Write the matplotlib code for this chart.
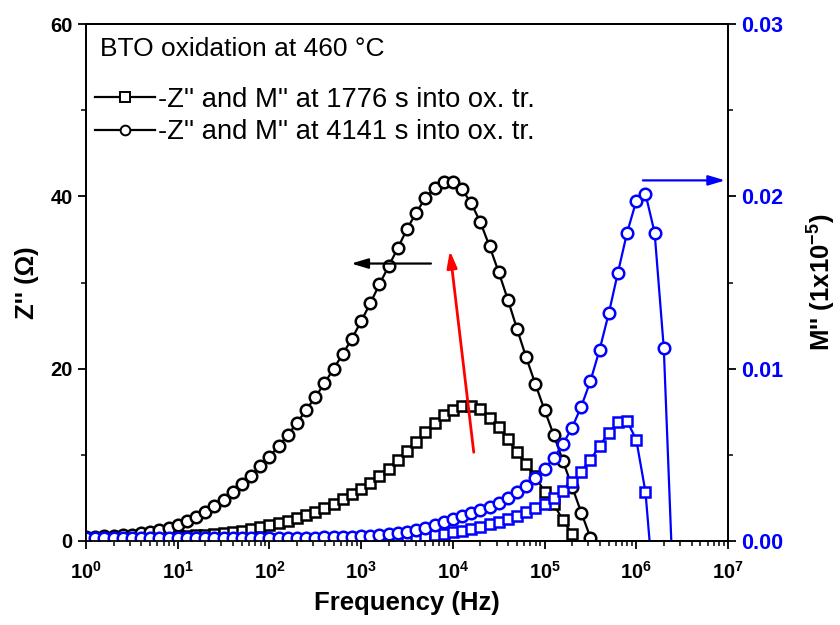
import numpy as np
import matplotlib
matplotlib.use("Agg")
import matplotlib.pyplot as plt
from matplotlib.lines import Line2D

plt.rcParams['font.family'] = ['Liberation Sans', 'DejaVu Sans']
plt.rcParams['mathtext.fontset'] = 'custom'
plt.rcParams['mathtext.rm'] = 'Liberation Sans'
plt.rcParams['mathtext.bf'] = 'Liberation Sans:bold'

# measurement grid: 10 points per decade, 1 Hz .. 2.5 MHz
log_f = [0.0, 0.1, 0.2, 0.3, 0.4, 0.5, 0.6, 0.7, 0.8, 0.9,
         1.0, 1.1, 1.2, 1.3, 1.4, 1.5, 1.6, 1.7, 1.8, 1.9,
         2.0, 2.1, 2.2, 2.3, 2.4, 2.5, 2.6, 2.7, 2.8, 2.9,
         3.0, 3.1, 3.2, 3.3, 3.4, 3.5, 3.6, 3.7, 3.8, 3.9,
         4.0, 4.1, 4.2, 4.3, 4.4, 4.5, 4.6, 4.7, 4.8, 4.9,
         5.0, 5.1, 5.2, 5.3, 5.4, 5.5, 5.6, 5.7, 5.8, 5.9,
         6.0, 6.1, 6.2, 6.3, 6.4]
freq = 10 ** np.array(log_f)

# -Z'' (Ohm), 1776 s into oxidation transient
z_1776 = [0.30, 0.31, 0.33, 0.35, 0.37, 0.39, 0.42, 0.45, 0.48, 0.52,
          0.56, 0.60, 0.66, 0.73, 0.82, 0.92, 1.05, 1.20, 1.36, 1.58,
          1.82, 2.05, 2.35, 2.68, 3.02, 3.40, 3.85, 4.32, 4.82, 5.40,
          6.02, 6.72, 7.50, 8.40, 9.35, 10.4, 11.5, 12.6, 13.7, 14.6,
          15.2, 15.7, 15.7, 15.3, 14.3, 13.2, 11.8, 10.3, 8.9, 7.5,
          5.7, 4.3, 2.4, 0.8]

# -Z'' (Ohm), 4141 s into oxidation transient
z_4141 = [0.45, 0.50, 0.55, 0.60, 0.66, 0.75, 0.88, 1.05, 1.27, 1.55,
          1.90, 2.32, 2.82, 3.38, 4.05, 4.80, 5.65, 6.60, 7.60, 8.65,
          9.80, 11.0, 12.3, 13.7, 15.2, 16.7, 18.3, 20.0, 21.7, 23.5,
          25.5, 27.6, 29.8, 31.9, 34.0, 36.2, 38.1, 39.8, 41.0, 41.7,
          41.7, 40.8, 39.2, 37.0, 34.2, 31.2, 28.0, 24.6, 21.3, 18.2,
          15.2, 12.3, 9.3, 6.3, 3.3, 0.4]

# M'' (1e-5), 1776 s
m_1776 = [0.0001, 0.0001, 0.0001, 0.0001, 0.0001, 0.0001, 0.0001, 0.0001, 0.0001, 0.0001,
          0.0001, 0.0001, 0.0001, 0.0001, 0.0001, 0.0001, 0.0001, 0.0001, 0.0001, 0.0001,
          0.00011, 0.00011, 0.00011, 0.00012, 0.00012, 0.00012, 0.00012, 0.00013, 0.00013, 0.00013,
          0.00014, 0.00015, 0.00016, 0.00018, 0.00020, 0.00022, 0.00026, 0.00030, 0.00035, 0.00042,
          0.00051, 0.00060, 0.00072, 0.00084, 0.00098, 0.00111, 0.00125, 0.00144, 0.00166, 0.00192,
          0.00217, 0.00252, 0.00292, 0.00341, 0.00403, 0.00472, 0.00551, 0.00628, 0.00688, 0.00696,
          0.00587, 0.00285, -0.0035]

# M'' (1e-5), 4141 s
m_4141 = [0.00015, 0.00015, 0.00015, 0.00015, 0.00015, 0.00015, 0.00015, 0.00015, 0.00015, 0.00015,
          0.00015, 0.00015, 0.00015, 0.00015, 0.00015, 0.00016, 0.00016, 0.00016, 0.00016, 0.00017,
          0.00017, 0.00017, 0.00018, 0.00018, 0.00019, 0.00020, 0.00021, 0.00022, 0.00024, 0.00026,
          0.00028, 0.00031, 0.00035, 0.00040, 0.00046, 0.00053, 0.00063, 0.00077, 0.00094, 0.00110,
          0.00127, 0.00144, 0.00161, 0.00180, 0.00200, 0.00222, 0.00250, 0.00283, 0.00318, 0.00365,
          0.00420, 0.00482, 0.00562, 0.00658, 0.00780, 0.00928, 0.01110, 0.01321, 0.01558, 0.01790,
          0.01973, 0.02015, 0.01789, 0.01118, -0.0025]

legend_labels = ["-Z'' and M'' at 1776 s into ox. tr.",
                 "-Z'' and M'' at 4141 s into ox. tr."]
xtick_vals = [1, 10, 100, 1e3, 1e4, 1e5, 1e6, 1e7]
xtick_labels = [r'$\mathbf{10^{%d}}$' % i for i in range(8)]

BLUE = '#0000FF'

fig = plt.figure(figsize=(8.4, 6.25), dpi=100)
ax = fig.add_axes([86 / 840, 84 / 625, 642 / 840, 517 / 625])
ax2 = ax.twinx()

sq = dict(marker='s', ms=7.2, mfc='white', mew=1.8, lw=1.6)
ci = dict(marker='o', ms=8.3, mfc='white', mew=1.8, lw=1.6)

ax.plot(freq[:len(z_1776)], z_1776, color='black', mec='black', **sq)
ax.plot(freq[:len(z_4141)], z_4141, color='black', mec='black', **ci)
ax2.plot(freq[:len(m_1776)], m_1776, color=BLUE, mec=BLUE, **sq)
ax2.plot(freq[:len(m_4141)], m_4141, color=BLUE, mec=BLUE, **ci)

ax.set_xscale('log')
ax.set_xlim(1, 1e7)
ax.set_ylim(0, 60)
ax2.set_ylim(0, 0.03)

ax.set_xticks(xtick_vals)
ax.set_xticklabels(xtick_labels)
ax.set_yticks([0, 20, 40, 60])
ax.set_yticks([10, 30, 50], minor=True)
ax2.set_yticks([0, 0.01, 0.02, 0.03])
ax2.set_yticklabels(['0.00', '0.01', '0.02', '0.03'])
ax2.set_yticks([0.005, 0.015, 0.025], minor=True)

for a in (ax, ax2):
    a.tick_params(which='major', direction='out', length=6, width=1.3, labelsize=14.5)
    a.tick_params(which='minor', direction='out', length=3.5, width=1.1)
    for s in a.spines.values():
        s.set_linewidth(1.3)
ax2.tick_params(axis='y', labelsize=15.5)
for lab in ax.get_yticklabels() + ax.get_xticklabels():
    lab.set_fontweight('bold')
for lab in ax2.get_yticklabels():
    lab.set_fontweight('bold')
    lab.set_color(BLUE)
ax.tick_params(axis='x', pad=8)

ax.set_xlabel('Frequency (Hz)', fontsize=18.5, fontweight='bold', labelpad=6)
ax.set_ylabel("Z'' (\u03a9)", fontsize=18.5, fontweight='bold', labelpad=8)
ax2.set_ylabel(r"M'' (1x10$^{\mathbf{-5}}$)", fontsize=18.5, fontweight='bold', labelpad=15)

# arrows
arrow_style = '-|>,head_length=0.5,head_width=0.15'
ax.annotate('', xy=(780, 32.2), xytext=(5770, 32.2),
            arrowprops=dict(arrowstyle=arrow_style, color='black', lw=1.6,
                            mutation_scale=20, shrinkA=0, shrinkB=0))
ax.annotate('', xy=(9280, 33.7), xytext=(16900, 10.3),
            arrowprops=dict(arrowstyle=arrow_style, color='red', lw=2,
                            mutation_scale=20, shrinkA=0, shrinkB=0))
ax.annotate('', xy=(9.3e6, 41.85), xytext=(1.18e6, 41.85),
            arrowprops=dict(arrowstyle=arrow_style, color=BLUE, lw=1.6,
                            mutation_scale=20, shrinkA=0, shrinkB=0))

ax.text(0.022, 0.952, 'BTO oxidation at 460 \u00b0C', transform=ax.transAxes,
        fontsize=19, va='center', ha='left')

handles = [Line2D([], [], color='black', mec='black', marker='s', ms=6.5, mfc='white', mew=1.4, lw=1.6),
           Line2D([], [], color='black', mec='black', marker='o', ms=7, mfc='white', mew=1.4, lw=1.6)]
ax.legend(handles, legend_labels, loc='upper left', bbox_to_anchor=(0.014, 0.879),
          frameon=False, fontsize=19.7, handlelength=2.2, handletextpad=0.12,
          labelspacing=0.24, borderpad=0, borderaxespad=0)

fig.savefig('out.png', dpi=100)
